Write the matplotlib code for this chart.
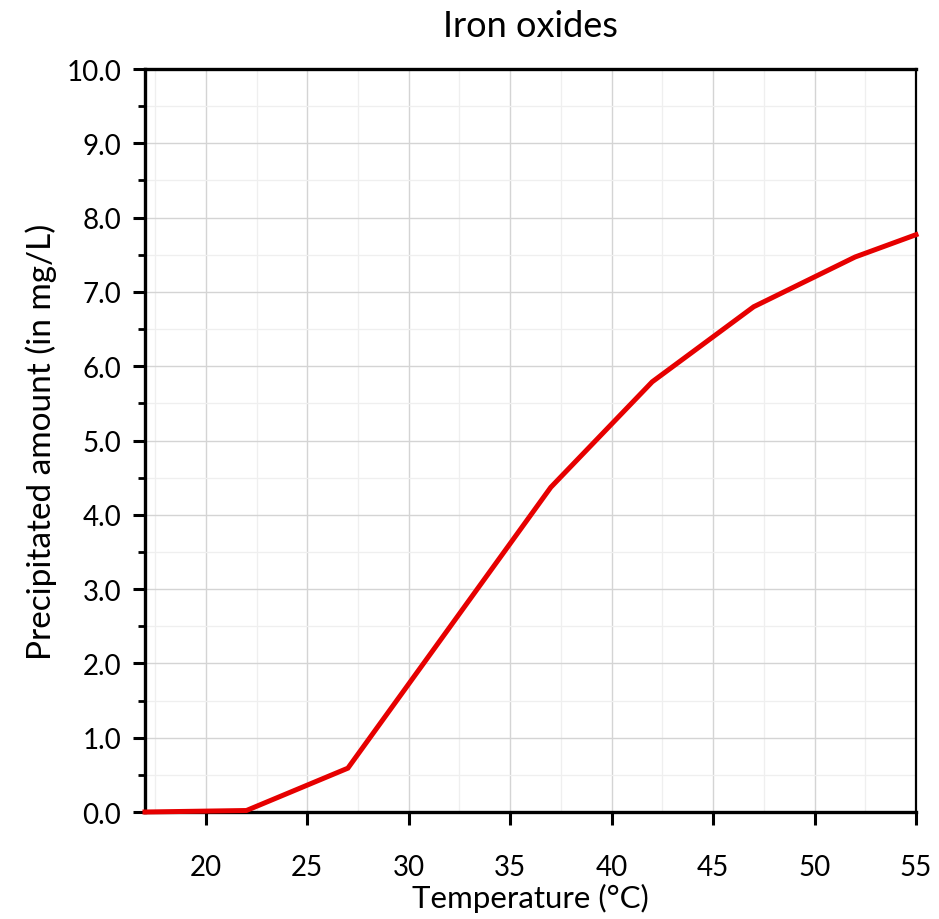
import numpy as np
import matplotlib
matplotlib.use('Agg')
import matplotlib.pyplot as plt
from matplotlib.ticker import MultipleLocator, FormatStrFormatter

plt.rcParams['font.family'] = ['Lato', 'DejaVu Sans']

temp = [17, 22, 27, 37, 42, 47, 52, 55]
amount = [0.0, 0.02, 0.59, 4.37, 5.79, 6.80, 7.47, 7.77]

fig = plt.figure(figsize=(9.39, 9.2), dpi=100)
ax = fig.add_axes([0.1544, 0.1163, 0.8211, 0.8076])

ax.plot(temp, amount, color='#e60000', lw=3.6, solid_joinstyle='miter', zorder=3, clip_on=False)

ax.set_xlim(17, 55)
ax.set_ylim(0, 10)
ax.xaxis.set_major_locator(MultipleLocator(5))
ax.xaxis.set_minor_locator(MultipleLocator(2.5))
ax.yaxis.set_major_locator(MultipleLocator(1))
ax.yaxis.set_minor_locator(MultipleLocator(0.5))
ax.yaxis.set_major_formatter(FormatStrFormatter('%.1f'))

ax.grid(which='major', color='#d4d4d4', lw=1.0)
ax.grid(which='minor', color='#efefef', lw=0.9)
ax.set_axisbelow(True)

ax.tick_params(axis='both', which='major', direction='out', length=9, width=2.2,
               labelsize=20, colors='black', pad=8)
ax.tick_params(axis='y', which='minor', direction='out', length=5, width=2.0)
ax.tick_params(axis='x', which='minor', length=0)
ax.tick_params(axis='x', which='major', pad=21)

for side in ['left', 'bottom', 'top']:
    ax.spines[side].set_linewidth(2.4)
ax.spines['right'].set_linewidth(1.6)

ax.set_xlabel('Temperature (°C)', fontsize=22.5, labelpad=2)
ax.set_ylabel('Precipitated amount (in mg/L)', fontsize=24, labelpad=7)
ax.set_title('Iron oxides', fontsize=26, pad=24)

fig.savefig('out.png', dpi=100)
